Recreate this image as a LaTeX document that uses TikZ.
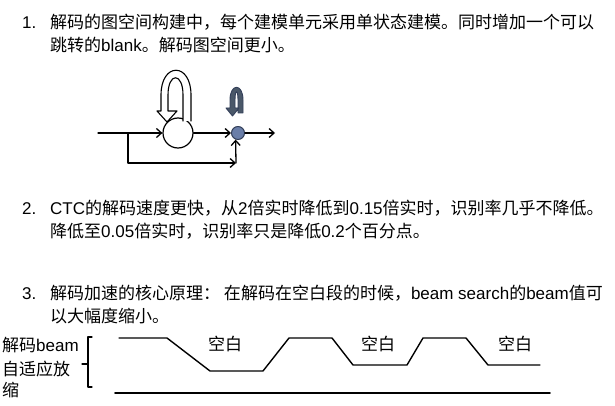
\documentclass[tikz,border=0pt]{standalone}
\usepackage{fontspec}
\setmainfont{Noto Sans CJK SC}
\newfontfamily\latinfont{Liberation Sans}
\newcommand{\en}[1]{{\latinfont #1}}
\usetikzlibrary{arrows.meta,positioning}
\definecolor{estadoazul}{HTML}{6A7EA8}
\definecolor{bordeazul}{HTML}{34405A}
\definecolor{lazooscuro}{HTML}{4A5869}

\begin{document}
\begin{tikzpicture}[x=1pt,y=-1pt,>={Straight Barb[length=5pt,width=9pt]},line cap=round,line join=round,
    txt/.style={anchor=base west,inner sep=0pt,font=\fontsize{17}{20}\selectfont},
    lbl/.style={anchor=base,inner sep=0pt,font=\fontsize{17}{20}\selectfont},
    flecha/.style={->,line width=1.3pt}]
    \useasboundingbox (0,0) rectangle (615,406);

    % punto 1
    \node[txt] (num1) at (22,29) {\en{1.}};
    \node[txt] (txt1a) at (50,29) {解码的图空间构建中，每个建模单元采用单状态建模。同时增加一个可以};
    \node[txt] (txt1b) at (50,51.5) {跳转的\en{blank}。解码图空间更小。};

    % grafo de estados
    \node[circle,draw,line width=1.2pt,minimum size=30pt,inner sep=0pt] (s1) at (178,133) {};
    \node[circle,draw=bordeazul,fill=estadoazul,line width=1pt,minimum size=13pt,inner sep=0pt] (s2) at (238,133) {};
    \coordinate (ent) at (98,133);
    \coordinate (div) at (128,133);
    \coordinate (esq) at (236,163);
    \coordinate (sal) at (275,133);
    \draw[flecha] (ent) -- (s1);
    \draw[flecha] (s1) -- (s2);
    \draw[flecha] (s2) -- (sal);
    \draw[flecha] (div) |- (esq);
    \draw[flecha] (esq) -- (s2.250);
    % lazos
    \draw[line width=1.1pt,fill=white] (191,121) -- (191,95) .. controls (191,62) and (161,62) .. (161,95)
        -- (161,111) -- (157,111) -- (167,122) -- (177,111) -- (168,111) -- (168,95)
        .. controls (168,72) and (183,72) .. (183,95) -- (183,121);
    \draw[line width=0.9pt,draw=bordeazul,fill=lazooscuro] (243,113) -- (243,100) .. controls (243,83) and (230,83) .. (230,100)
        -- (230,108) -- (226,108) -- (232.5,116) -- (239,108) -- (235,108) -- (235,100)
        .. controls (235,89) and (238,89) .. (238,100) -- (238,113) -- cycle;

    % punto 2
    \node[txt] (num2) at (22,214.5) {\en{2.}};
    \node[txt] (txt2a) at (50,214.5) {\en{CTC}的解码速度更快，从\en{2}倍实时降低到\en{0.15}倍实时，识别率几乎不降低。};
    \node[txt] (txt2b) at (50,237.5) {降低至\en{0.05}倍实时，识别率只是降低\en{0.2}个百分点。};

    % punto 3
    \node[txt] (num3) at (22,299.5) {\en{3.}};
    \node[txt] (txt3a) at (50,299.5) {解码加速的核心原理： 在解码在空白段的时候，\en{beam search}的\en{beam}值可};
    \node[txt] (txt3b) at (50,322.5) {以大幅度缩小。};

    % beam adaptativo
    \node[txt] (eje1) at (2,351.5) {解码\en{beam}};
    \node[txt] (eje2) at (2,375.5) {自适应放};
    \node[txt] (eje3) at (2,396.5) {缩};
    \draw[line width=1.2pt] (92,337) -- (88,337) -- (88,387) -- (92,387);
    \draw[line width=1.2pt] (88,364) -- (82,364);
    \draw[line width=1.4pt] (119,338) -- (167,338) -- (210,371) -- (263,371) -- (289,338) -- (332,338)
        -- (353,365) -- (407,365) -- (423,338) -- (466,338) -- (488,365) -- (540,365);
    \draw[line width=1.8pt] (115,393) -- (550,393);
    \foreach \x/\n in {225/b1,378/b2,515/b3}{
        \node[lbl] (\n) at (\x,350.5) {空白};
    }
\end{tikzpicture}
\end{document}
